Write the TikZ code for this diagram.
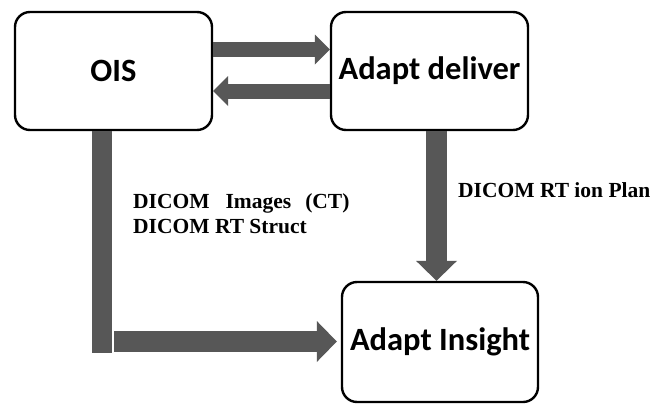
\documentclass[tikz,border=0pt]{standalone}
\usepackage{fontspec}
\setmainfont{Liberation Serif}
\newfontfamily\boxfont{Carlito}
\usetikzlibrary{arrows.meta}
\definecolor{arrgray}{HTML}{575757}
\tikzset{
  sysbox/.style={draw=black, line width=2.4pt, rounded corners=15pt, fill=white,
    minimum width=197pt, minimum height=118pt, inner sep=0pt,
    font=\boxfont\bfseries\fontsize{32.5}{38}\selectfont},
  flowlabel/.style={anchor=base west, inner sep=0pt,
    font=\bfseries\fontsize{21.5}{25}\selectfont},
  thinarrow/.style={draw=arrgray, line width=15pt,
    -{Triangle[width=30pt,length=15pt,line width=0pt]}},
  fatarrow/.style={draw=arrgray, line width=21pt,
    -{Triangle[width=41pt,length=20pt,line width=0pt]}},
  bar/.style={draw=arrgray, line width=20pt}
}
\begin{document}
\begin{tikzpicture}[x=1pt,y=-1pt]
\useasboundingbox (0,0) rectangle (662,405);
\fill[white] (0,0) rectangle (662,405);
\node[sysbox] (ois) at (113.5,71) {OIS};
\node[sysbox] (deliver) at (429.5,71) {Adapt deliver};
\node[sysbox, minimum width=196pt, minimum height=120pt] (insight) at (440,342) {Adapt Insight};
% OIS <-> Adapt deliver
\draw[thinarrow] (ois.east |- 0,49.5) -- (deliver.west |- 0,49.5);
\draw[thinarrow] (deliver.west |- 0,91) -- (ois.east |- 0,91);
% Adapt deliver -> Adapt Insight
\draw[fatarrow] (deliver.south -| 436.5,0) -- (insight.north -| 436.5,0);
% OIS -> Adapt Insight
\coordinate (barend) at (102,353);
\coordinate (turn) at (114,341.5);
\draw[bar] (ois.south -| barend) -- (barend);
\draw[fatarrow, shorten >=4pt] (turn) -- (insight.west |- turn);
% labels
\node[flowlabel] (lab1) at (133,208) {DICOM\hspace{16pt}Images\hspace{14pt}(CT)};
\node[flowlabel] (lab2) at (133,233) {DICOM RT Struct};
\node[flowlabel] (lab3) at (458,197) {DICOM RT ion Plan};
\end{tikzpicture}
\end{document}
